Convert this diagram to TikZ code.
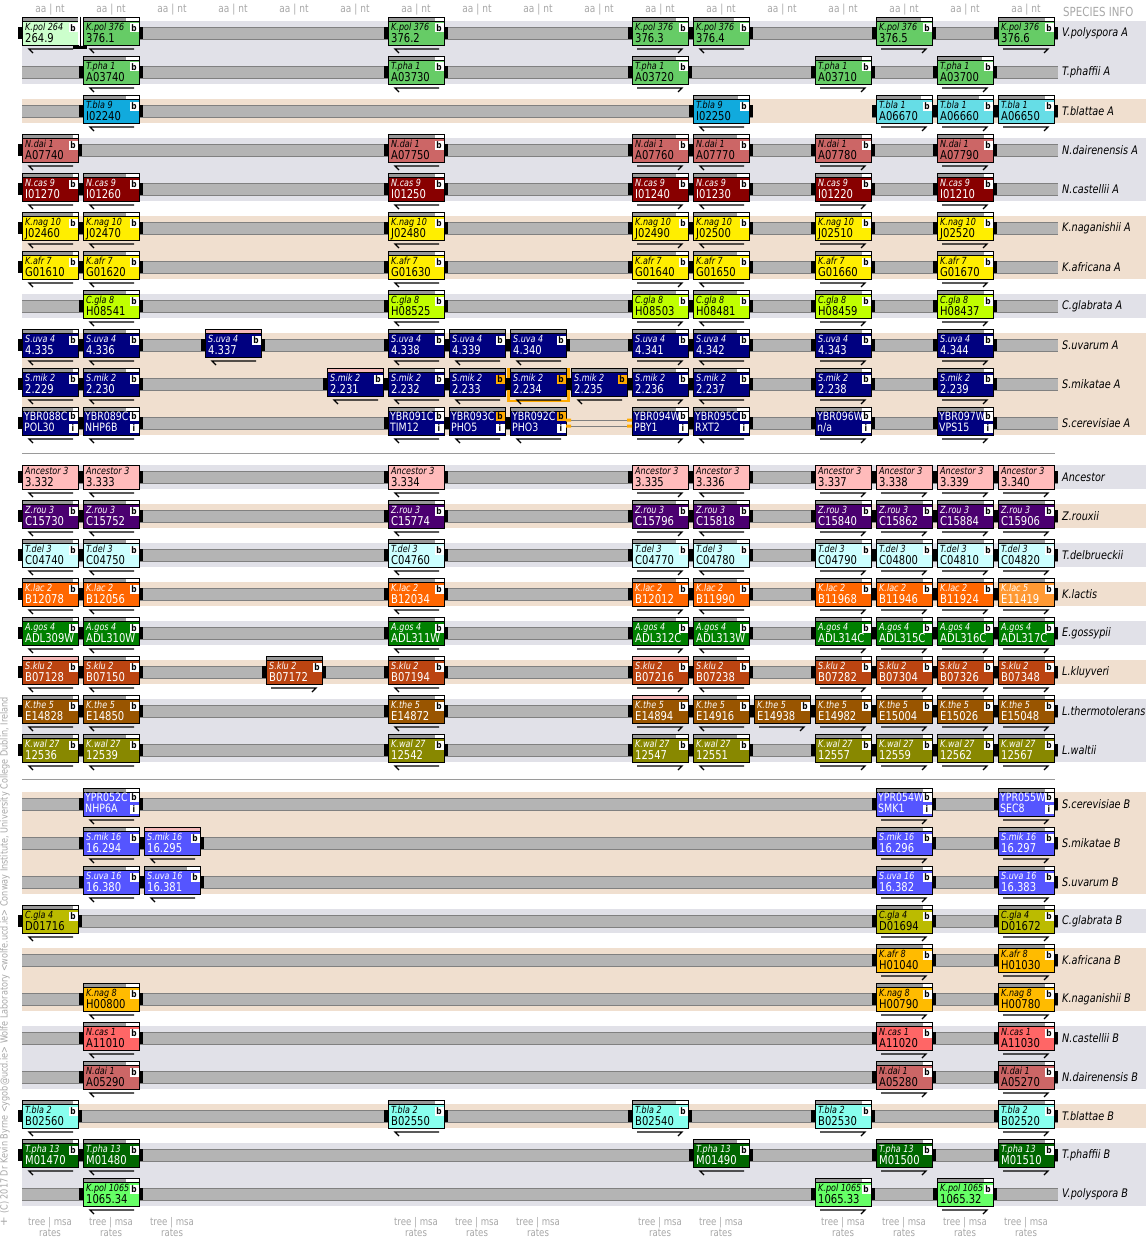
\documentclass[tikz,border=0pt]{standalone}
\usepackage{fontspec}
\setmainfont{DejaVu Sans}[FakeStretch=0.82]
\definecolor{lav}{HTML}{E1E1E8}
\definecolor{beige}{HTML}{F0DFCF}
\definecolor{trk}{HTML}{B4B4B4}
\definecolor{trkedge}{HTML}{808080}
\definecolor{bargrey}{HTML}{999999}
\definecolor{barpink}{HTML}{F4B8B8}
\definecolor{borange}{HTML}{FFAA00}
\definecolor{hdr}{HTML}{A8A8A8}
\definecolor{kpolL}{HTML}{CCFFCC}
\definecolor{kpol}{HTML}{66CC66}
\definecolor{tblaA}{HTML}{11AADD}
\definecolor{tblaB}{HTML}{66DDE6}
\definecolor{ndai}{HTML}{CC6666}
\definecolor{ncasA}{HTML}{880000}
\definecolor{yel}{HTML}{FFEE00}
\definecolor{lime}{HTML}{C0FF00}
\definecolor{navy}{HTML}{000080}
\definecolor{anc}{HTML}{FFBBBB}
\definecolor{zrou}{HTML}{4B0070}
\definecolor{tdel}{HTML}{CCFFFF}
\definecolor{klac}{HTML}{FF6600}
\definecolor{klacL}{HTML}{FF9933}
\definecolor{agos}{HTML}{008000}
\definecolor{sklu}{HTML}{BB4411}
\definecolor{kthe}{HTML}{995500}
\definecolor{kwal}{HTML}{888800}
\definecolor{blu}{HTML}{5555FF}
\definecolor{cglaB}{HTML}{BBBB00}
\definecolor{orng}{HTML}{FFBB00}
\definecolor{ncasB}{HTML}{FF6666}
\definecolor{tbla2}{HTML}{88FFEE}
\definecolor{tpha13}{HTML}{006600}
\definecolor{kpolB}{HTML}{66FF66}

\tikzset{
  genebox/.style={draw=black,line width=0.8pt,minimum width=56pt,minimum height=24pt,inner sep=0pt,outer sep=0pt},
  sptxt/.style={font=\fontsize{9.8}{10}\selectfont\itshape,inner sep=0pt},
  idtxt/.style={font=\fontsize{12.2}{12}\selectfont,inner sep=0pt},
  sctxt/.style={font=\fontsize{11.5}{12}\selectfont,inner sep=0pt},
  bsq/.style={minimum width=9pt,minimum height=9pt,inner sep=0pt,font=\fontsize{9}{9}\selectfont\bfseries},
  splabel/.style={font=\fontsize{11.8}{12}\selectfont\itshape,inner sep=0pt},
  hdrtxt/.style={font=\fontsize{11}{12}\selectfont,text=hdr,inner sep=0pt},
  garrow/.style={line width=1.2pt,black},
}

\def\tbx{x}\def\tbp{p}
\def\bfc{white}
\newcommand\gtopbar[1]{%
  \def\tbarg{#1}%
  \ifx\tbarg\tbx\else
  \ifx\tbarg\tbp
    \filldraw[fill=barpink,draw=black,line width=.6pt] (\gL,\gc-16) rectangle (\gR,\gc-12);
  \else
    \fill[bargrey] (\gL,\gc-16) rectangle (\gR-#1,\gc-12);
    \fill[white] (\gR-#1,\gc-16) rectangle (\gR,\gc-12);
    \draw[line width=.6pt] (\gL,\gc-16) rectangle (\gR,\gc-12);
  \fi\fi}

% #1 name, #2 column, #3 row y, #4 id, #5 dir l/r, #6 top bar (white width | p | x), #7 top text (mode 2)
\newcommand\gene[7]{%
  \pgfmathsetmacro\gL{22+61*(#2)}%
  \pgfmathsetmacro\gR{\gL+56}%
  \def\gc{#3}%
  \fill[black] (\gL-4,\gc-6) rectangle (\gL,\gc+6);
  \fill[black] (\gR,\gc-6) rectangle (\gR+4,\gc+6);
  \node[genebox,fill=\gfill] (#1) at (\gL+28,\gc) {};
  \gtopbar{#6}%
  \ifnum\gmode=2
    \node[sctxt,text=\gtext,anchor=base west] (#1-s) at (\gL+2,\gc-3) {#7};
    \node[sctxt,text=\gtext,anchor=base west] (#1-i) at (\gL+2,\gc+8.5) {#4};
    \node[bsq,fill=\bfc] (#1-b) at (\gL+51,\gc-7) {b};
    \node[bsq,fill=white] (#1-ii) at (\gL+51,\gc+5) {i};
  \else
    \node[sptxt,text=\gtext,anchor=base west] (#1-s) at (\gL+3,\gc-2.3) {\gsp};
    \node[idtxt,text=\gtext,anchor=base west] (#1-i) at (\gL+3,\gc+9.5) {#4};
    \ifnum\gmode=1
      \node[bsq,fill=\bfc] (#1-b) at (\gL+51,\gc-5) {b};
    \fi
  \fi
  \if#5l
    \draw[garrow] (\gL+11,\gc+20) -- (\gL+7,\gc+16) -- (\gL+51,\gc+16);
  \else
    \draw[garrow] (\gL+5,\gc+16) -- (\gL+50,\gc+16) -- (\gL+46,\gc+20);
  \fi
}

\newcommand\rowtrack[2]{%
  \fill[trk] (22,#1-6) rectangle (1058,#1+6);
  \draw[trkedge,line width=.8pt] (22,#1-6) -- (1058,#1-6) (22,#1+6) -- (1058,#1+6);
  \node[splabel,anchor=west] (lab#1) at (1062,#1) {#2};}

\begin{document}
\begin{tikzpicture}[x=1pt,y=-1pt]
\useasboundingbox (0,0) rectangle (1146,1239);
\fill[white] (0,0) rectangle (1146,1239);

% background bands
\fill[lav]   (22,21) rectangle (1146,84);
\fill[beige] (22,99) rectangle (1146,123);
\fill[lav]   (22,138) rectangle (1146,201);
\fill[beige] (22,216) rectangle (1146,279);
\fill[lav]   (22,294) rectangle (1146,318);
\fill[beige] (22,333) rectangle (1146,435);
\fill[lav]   (22,465) rectangle (1146,489);
\fill[beige] (22,504) rectangle (1146,528);
\fill[lav]   (22,543) rectangle (1146,567);
\fill[beige] (22,582) rectangle (1146,606);
\fill[lav]   (22,621) rectangle (1146,645);
\fill[beige] (22,660) rectangle (1146,684);
\fill[lav]   (22,699) rectangle (1146,762);
\fill[beige] (22,792) rectangle (1146,894);
\fill[lav]   (22,909) rectangle (1146,933);
\fill[beige] (22,948) rectangle (1146,1011);
\fill[lav]   (22,1026) rectangle (1146,1089);
\fill[beige] (22,1104) rectangle (1146,1128);
\fill[lav]   (22,1143) rectangle (1146,1206);

% separators
\draw[trkedge!80,line width=1pt] (22,453) -- (1055,453);
\draw[trkedge!80,line width=1pt] (22,779) -- (1055,779);

% header and footer
\foreach \c in {0,...,16} {\node[hdrtxt] (h\c) at (50+61*\c,10) {aa | nt};}
\node[hdrtxt,anchor=west,font=\fontsize{12.5}{13}\selectfont] (spinfo) at (1063,12) {SPECIES INFO};
\foreach \c in {0,1,2,6,7,8,10,11,13,14,15,16} {
  \node[hdrtxt,font=\fontsize{10.5}{11}\selectfont] (f\c) at (50+61*\c,1222.5) {tree | msa};
  \node[hdrtxt,font=\fontsize{10.5}{11}\selectfont] (g\c) at (50+61*\c,1233) {rates};}
\node[hdrtxt,font=\fontsize{12}{12}\selectfont] (plus) at (4,1222) {+};
\node[hdrtxt,font=\fontsize{9.9}{10}\selectfont,rotate=90,anchor=west] (copy) at (5,1214) {(C) 2017 Dr Kevin Byrne <ygob@ucd.ie> Wolfe Laboratory <wolfe.ucd.ie> Conway Institute, University College Dublin, Ireland};

% tracks and species labels
\rowtrack{33}{V.polyspora A}
\rowtrack{72}{T.phaffii A}
\rowtrack{111}{T.blattae A}
\fill[beige] (753,104) rectangle (872,118);
\rowtrack{150}{N.dairenensis A}
\rowtrack{189}{N.castellii A}
\rowtrack{228}{K.naganishii A}
\rowtrack{267}{K.africana A}
\rowtrack{306}{C.glabrata A}
\rowtrack{345}{S.uvarum A}
\rowtrack{384}{S.mikatae A}
\rowtrack{423}{S.cerevisiae A}
\rowtrack{477}{Ancestor}
\rowtrack{516}{Z.rouxii}
\rowtrack{555}{T.delbrueckii}
\rowtrack{594}{K.lactis}
\rowtrack{633}{E.gossypii}
\rowtrack{672}{L.kluyveri}
\rowtrack{711}{L.thermotolerans}
\rowtrack{750}{L.waltii}
\rowtrack{804}{S.cerevisiae B}
\rowtrack{843}{S.mikatae B}
\rowtrack{882}{S.uvarum B}
\rowtrack{921}{C.glabrata B}
\rowtrack{960}{K.africana B}
\rowtrack{999}{K.naganishii B}
\rowtrack{1038}{N.castellii B}
\rowtrack{1077}{N.dairenensis B}
\rowtrack{1116}{T.blattae B}
\rowtrack{1155}{T.phaffii B}
\rowtrack{1194}{V.polyspora B}

% ---------- row 0 V.polyspora A
\def\gmode{1}\def\gtext{black}
\def\gfill{kpolL}\def\gsp{K.pol 264}
\gene{r0c0}{0}{33}{264.9}{l}{0}{}
\def\gfill{kpol}\def\gsp{K.pol 376}
\gene{r0c1}{1}{33}{376.1}{l}{13}{}
\gene{r0c6}{6}{33}{376.2}{l}{9}{}
\gene{r0c10}{10}{33}{376.3}{r}{12}{}
\gene{r0c11}{11}{33}{376.4}{l}{15}{}
\gene{r0c14}{14}{33}{376.5}{r}{11}{}
\gene{r0c16}{16}{33}{376.6}{r}{9}{}
% contig break
\fill[white] (78.4,16.6) rectangle (82.6,45.4);
\draw[line width=.8pt] (80.5,16.6) -- (80.5,48);
\fill[black] (73,46.5) rectangle (87,49);

% row 1 T.phaffii A
\def\gsp{T.pha 1}
\gene{r1c1}{1}{72}{A03740}{l}{13}{}
\gene{r1c6}{6}{72}{A03730}{l}{9}{}
\gene{r1c10}{10}{72}{A03720}{r}{12}{}
\gene{r1c13}{13}{72}{A03710}{r}{9}{}
\gene{r1c15}{15}{72}{A03700}{r}{11}{}

% row 2 T.blattae A
\def\gfill{tblaA}\def\gsp{T.bla 9}
\gene{r2c1}{1}{111}{I02240}{l}{13}{}
\gene{r2c11}{11}{111}{I02250}{l}{11}{}
\def\gfill{tblaB}\def\gsp{T.bla 1}
\gene{r2c14}{14}{111}{A06670}{r}{11}{}
\gene{r2c15}{15}{111}{A06660}{r}{14}{}
\gene{r2c16}{16}{111}{A06650}{r}{9}{}

% row 3 N.dairenensis A
\def\gfill{ndai}\def\gsp{N.dai 1}
\gene{r3c0}{0}{150}{A07740}{l}{5}{}
\gene{r3c6}{6}{150}{A07750}{l}{9}{}
\gene{r3c10}{10}{150}{A07760}{r}{12}{}
\gene{r3c11}{11}{150}{A07770}{l}{12}{}
\gene{r3c13}{13}{150}{A07780}{r}{9}{}
\gene{r3c15}{15}{150}{A07790}{r}{9}{}

% row 4 N.castellii A
\def\gfill{ncasA}\def\gsp{N.cas 9}\def\gtext{white}
\gene{r4c0}{0}{189}{I01270}{l}{5}{}
\gene{r4c1}{1}{189}{I01260}{l}{13}{}
\gene{r4c6}{6}{189}{I01250}{l}{9}{}
\gene{r4c10}{10}{189}{I01240}{r}{12}{}
\gene{r4c11}{11}{189}{I01230}{l}{12}{}
\gene{r4c13}{13}{189}{I01220}{r}{9}{}
\gene{r4c15}{15}{189}{I01210}{r}{9}{}

% row 5 K.naganishii A
\def\gfill{yel}\def\gsp{K.nag 10}\def\gtext{black}
\gene{r5c0}{0}{228}{J02460}{l}{5}{}
\gene{r5c1}{1}{228}{J02470}{l}{13}{}
\gene{r5c6}{6}{228}{J02480}{l}{9}{}
\gene{r5c10}{10}{228}{J02490}{r}{12}{}
\gene{r5c11}{11}{228}{J02500}{l}{12}{}
\gene{r5c13}{13}{228}{J02510}{r}{9}{}
\gene{r5c15}{15}{228}{J02520}{r}{9}{}

% row 6 K.africana A
\def\gsp{K.afr 7}
\gene{r6c0}{0}{267}{G01610}{l}{5}{}
\gene{r6c1}{1}{267}{G01620}{l}{13}{}
\gene{r6c6}{6}{267}{G01630}{l}{9}{}
\gene{r6c10}{10}{267}{G01640}{r}{12}{}
\gene{r6c11}{11}{267}{G01650}{l}{12}{}
\gene{r6c13}{13}{267}{G01660}{r}{9}{}
\gene{r6c15}{15}{267}{G01670}{r}{9}{}

% row 7 C.glabrata A
\def\gfill{lime}\def\gsp{C.gla 8}
\gene{r7c1}{1}{306}{H08541}{l}{13}{}
\gene{r7c6}{6}{306}{H08525}{l}{9}{}
\gene{r7c10}{10}{306}{H08503}{r}{12}{}
\gene{r7c11}{11}{306}{H08481}{l}{12}{}
\gene{r7c13}{13}{306}{H08459}{r}{9}{}
\gene{r7c15}{15}{306}{H08437}{r}{9}{}

% row 8 S.uvarum A
\def\gfill{navy}\def\gsp{S.uva 4}\def\gtext{white}
\gene{r8c0}{0}{345}{4.335}{l}{5}{}
\gene{r8c1}{1}{345}{4.336}{l}{13}{}
\gene{r8c3}{3}{345}{4.337}{l}{p}{}
\gene{r8c6}{6}{345}{4.338}{l}{9}{}
\gene{r8c7}{7}{345}{4.339}{l}{0}{}
\gene{r8c8}{8}{345}{4.340}{l}{0}{}
\gene{r8c10}{10}{345}{4.341}{r}{12}{}
\gene{r8c11}{11}{345}{4.342}{l}{12}{}
\gene{r8c13}{13}{345}{4.343}{r}{9}{}
\gene{r8c15}{15}{345}{4.344}{r}{9}{}

% row 9 S.mikatae A
\def\gsp{S.mik 2}
\draw[borange,line width=2.7pt] (508.5,368) -- (508.5,401) -- (568.5,401) -- (568.5,368);
\gene{r9c0}{0}{384}{2.229}{l}{5}{}
\gene{r9c1}{1}{384}{2.230}{l}{13}{}
\gene{r9c5}{5}{384}{2.231}{l}{p}{}
\gene{r9c6}{6}{384}{2.232}{l}{9}{}
\def\bfc{borange}
\gene{r9c7}{7}{384}{2.233}{l}{0}{}
\gene{r9c8}{8}{384}{2.234}{l}{0}{}
\gene{r9c9}{9}{384}{2.235}{l}{0}{}
\def\bfc{white}
\gene{r9c10}{10}{384}{2.236}{r}{12}{}
\gene{r9c11}{11}{384}{2.237}{l}{12}{}
\gene{r9c13}{13}{384}{2.238}{r}{9}{}
\gene{r9c15}{15}{384}{2.239}{r}{9}{}

% row 10 S.cerevisiae A
\def\gmode{2}
\gene{r10c0}{0}{423}{POL30}{l}{5}{YBR088C}
\gene{r10c1}{1}{423}{NHP6B}{l}{13}{YBR089C-}
\gene{r10c6}{6}{423}{TIM12}{l}{9}{YBR091C}
\def\bfc{borange}
\gene{r10c7}{7}{423}{PHO5}{l}{0}{YBR093C}
\gene{r10c8}{8}{423}{PHO3}{l}{0}{YBR092C}
\def\bfc{white}
\gene{r10c10}{10}{423}{PBY1}{r}{12}{YBR094W}
\gene{r10c11}{11}{423}{RXT2}{l}{12}{YBR095C}
\gene{r10c13}{13}{423}{n/a}{r}{9}{YBR096W}
\gene{r10c15}{15}{423}{VPS15}{r}{9}{YBR097W}
% tandem gap
\fill[beige] (566.5,416.5) rectangle (631.5,429.5);
\draw[trkedge,line width=1pt] (566,420) -- (632,420) (566,426) -- (632,426);
\fill[borange] (566,418.5) rectangle (571,421.5) (566,424.5) rectangle (571,427.5)
               (627,418.5) rectangle (632,421.5) (627,424.5) rectangle (632,427.5);

% row 11 Ancestor
\def\gmode{0}\def\gfill{anc}\def\gsp{Ancestor 3}\def\gtext{black}
\gene{r11c0}{0}{477}{3.332}{l}{x}{}
\gene{r11c1}{1}{477}{3.333}{l}{x}{}
\gene{r11c6}{6}{477}{3.334}{l}{x}{}
\gene{r11c10}{10}{477}{3.335}{r}{x}{}
\gene{r11c11}{11}{477}{3.336}{l}{x}{}
\gene{r11c13}{13}{477}{3.337}{r}{x}{}
\gene{r11c14}{14}{477}{3.338}{r}{x}{}
\gene{r11c15}{15}{477}{3.339}{r}{x}{}
\gene{r11c16}{16}{477}{3.340}{r}{x}{}

% row 12 Z.rouxii
\def\gmode{1}\def\gfill{zrou}\def\gsp{Z.rou 3}\def\gtext{white}
\gene{r12c0}{0}{516}{C15730}{l}{5}{}
\gene{r12c1}{1}{516}{C15752}{l}{13}{}
\gene{r12c6}{6}{516}{C15774}{l}{9}{}
\gene{r12c10}{10}{516}{C15796}{r}{12}{}
\gene{r12c11}{11}{516}{C15818}{l}{12}{}
\gene{r12c13}{13}{516}{C15840}{r}{9}{}
\gene{r12c14}{14}{516}{C15862}{r}{9}{}
\gene{r12c15}{15}{516}{C15884}{r}{9}{}
\gene{r12c16}{16}{516}{C15906}{r}{9}{}

% row 13 T.delbrueckii
\def\gfill{tdel}\def\gsp{T.del 3}\def\gtext{black}
\gene{r13c0}{0}{555}{C04740}{l}{5}{}
\gene{r13c1}{1}{555}{C04750}{l}{13}{}
\gene{r13c6}{6}{555}{C04760}{l}{9}{}
\gene{r13c10}{10}{555}{C04770}{r}{12}{}
\gene{r13c11}{11}{555}{C04780}{l}{12}{}
\gene{r13c13}{13}{555}{C04790}{r}{9}{}
\gene{r13c14}{14}{555}{C04800}{r}{9}{}
\gene{r13c15}{15}{555}{C04810}{r}{9}{}
\gene{r13c16}{16}{555}{C04820}{r}{9}{}

% row 14 K.lactis
\def\gfill{klac}\def\gsp{K.lac 2}\def\gtext{white}
\gene{r14c0}{0}{594}{B12078}{l}{5}{}
\gene{r14c1}{1}{594}{B12056}{l}{13}{}
\gene{r14c6}{6}{594}{B12034}{l}{9}{}
\gene{r14c10}{10}{594}{B12012}{r}{12}{}
\gene{r14c11}{11}{594}{B11990}{l}{12}{}
\gene{r14c13}{13}{594}{B11968}{r}{9}{}
\gene{r14c14}{14}{594}{B11946}{r}{9}{}
\gene{r14c15}{15}{594}{B11924}{r}{9}{}
\def\gfill{klacL}\def\gsp{K.lac 5}
\gene{r14c16}{16}{594}{E11419}{r}{9}{}

% row 15 E.gossypii
\def\gfill{agos}\def\gsp{A.gos 4}
\gene{r15c0}{0}{633}{ADL309W}{l}{5}{}
\gene{r15c1}{1}{633}{ADL310W}{l}{13}{}
\gene{r15c6}{6}{633}{ADL311W}{l}{9}{}
\gene{r15c10}{10}{633}{ADL312C}{r}{12}{}
\gene{r15c11}{11}{633}{ADL313W}{l}{12}{}
\gene{r15c13}{13}{633}{ADL314C}{r}{9}{}
\gene{r15c14}{14}{633}{ADL315C}{r}{9}{}
\gene{r15c15}{15}{633}{ADL316C}{r}{9}{}
\gene{r15c16}{16}{633}{ADL317C}{r}{9}{}

% row 16 L.kluyveri
\def\gfill{sklu}\def\gsp{S.klu 2}
\gene{r16c0}{0}{672}{B07128}{l}{p}{}
\gene{r16c1}{1}{672}{B07150}{l}{13}{}
\gene{r16c4}{4}{672}{B07172}{r}{0}{}
\gene{r16c6}{6}{672}{B07194}{l}{9}{}
\gene{r16c10}{10}{672}{B07216}{r}{p}{}
\gene{r16c11}{11}{672}{B07238}{l}{12}{}
\gene{r16c13}{13}{672}{B07282}{r}{9}{}
\gene{r16c14}{14}{672}{B07304}{r}{9}{}
\gene{r16c15}{15}{672}{B07326}{r}{9}{}
\gene{r16c16}{16}{672}{B07348}{r}{9}{}

% row 17 L.thermotolerans
\def\gfill{kthe}\def\gsp{K.the 5}
\gene{r17c0}{0}{711}{E14828}{l}{5}{}
\gene{r17c1}{1}{711}{E14850}{l}{13}{}
\gene{r17c6}{6}{711}{E14872}{l}{9}{}
\gene{r17c10}{10}{711}{E14894}{r}{p}{}
\gene{r17c11}{11}{711}{E14916}{l}{12}{}
\gene{r17c12}{12}{711}{E14938}{r}{0}{}
\gene{r17c13}{13}{711}{E14982}{r}{9}{}
\gene{r17c14}{14}{711}{E15004}{r}{9}{}
\gene{r17c15}{15}{711}{E15026}{r}{9}{}
\gene{r17c16}{16}{711}{E15048}{r}{9}{}

% row 18 L.waltii
\def\gfill{kwal}\def\gsp{K.wal 27}
\gene{r18c0}{0}{750}{12536}{l}{5}{}
\gene{r18c1}{1}{750}{12539}{l}{13}{}
\gene{r18c6}{6}{750}{12542}{l}{9}{}
\gene{r18c10}{10}{750}{12547}{r}{12}{}
\gene{r18c11}{11}{750}{12551}{l}{12}{}
\gene{r18c13}{13}{750}{12557}{r}{9}{}
\gene{r18c14}{14}{750}{12559}{r}{9}{}
\gene{r18c15}{15}{750}{12562}{r}{9}{}
\gene{r18c16}{16}{750}{12567}{r}{9}{}

% row 19 S.cerevisiae B
\def\gmode{2}\def\gfill{blu}
\gene{r19c1}{1}{804}{NHP6A}{l}{13}{YPR052C}
\gene{r19c14}{14}{804}{SMK1}{r}{9}{YPR054W}
\gene{r19c16}{16}{804}{SEC8}{r}{9}{YPR055W}

% row 20 S.mikatae B
\def\gmode{1}\def\gsp{S.mik 16}
\gene{r20c1}{1}{843}{16.294}{l}{13}{}
\gene{r20c2}{2}{843}{16.295}{l}{p}{}
\gene{r20c14}{14}{843}{16.296}{r}{9}{}
\gene{r20c16}{16}{843}{16.297}{r}{9}{}

% row 21 S.uvarum B
\def\gsp{S.uva 16}
\gene{r21c1}{1}{882}{16.380}{l}{13}{}
\gene{r21c2}{2}{882}{16.381}{l}{13}{}
\gene{r21c14}{14}{882}{16.382}{r}{9}{}
\gene{r21c16}{16}{882}{16.383}{r}{9}{}

% row 22 C.glabrata B
\def\gfill{cglaB}\def\gsp{C.gla 4}\def\gtext{black}
\gene{r22c0}{0}{921}{D01716}{l}{5}{}
\gene{r22c14}{14}{921}{D01694}{r}{9}{}
\gene{r22c16}{16}{921}{D01672}{r}{9}{}

% row 23 K.africana B
\def\gfill{orng}\def\gsp{K.afr 8}
\gene{r23c14}{14}{960}{H01040}{r}{9}{}
\gene{r23c16}{16}{960}{H01030}{r}{9}{}

% row 24 K.naganishii B
\def\gsp{K.nag 8}
\gene{r24c1}{1}{999}{H00800}{l}{13}{}
\gene{r24c14}{14}{999}{H00790}{r}{9}{}
\gene{r24c16}{16}{999}{H00780}{r}{9}{}

% row 25 N.castellii B
\def\gfill{ncasB}\def\gsp{N.cas 1}
\gene{r25c1}{1}{1038}{A11010}{l}{13}{}
\gene{r25c14}{14}{1038}{A11020}{r}{9}{}
\gene{r25c16}{16}{1038}{A11030}{r}{9}{}

% row 26 N.dairenensis B
\def\gfill{ndai}\def\gsp{N.dai 1}
\gene{r26c1}{1}{1077}{A05290}{l}{13}{}
\gene{r26c14}{14}{1077}{A05280}{r}{9}{}
\gene{r26c16}{16}{1077}{A05270}{r}{9}{}

% row 27 T.blattae B
\def\gfill{tbla2}\def\gsp{T.bla 2}
\gene{r27c0}{0}{1116}{B02560}{l}{5}{}
\gene{r27c6}{6}{1116}{B02550}{l}{9}{}
\gene{r27c10}{10}{1116}{B02540}{r}{12}{}
\gene{r27c13}{13}{1116}{B02530}{r}{9}{}
\gene{r27c16}{16}{1116}{B02520}{r}{9}{}

% row 28 T.phaffii B
\def\gfill{tpha13}\def\gsp{T.pha 13}\def\gtext{white}
\gene{r28c0}{0}{1155}{M01470}{l}{5}{}
\gene{r28c1}{1}{1155}{M01480}{l}{13}{}
\gene{r28c11}{11}{1155}{M01490}{l}{12}{}
\gene{r28c14}{14}{1155}{M01500}{r}{9}{}
\gene{r28c16}{16}{1155}{M01510}{r}{9}{}

% row 29 V.polyspora B
\def\gfill{kpolB}\def\gsp{K.pol 1065}\def\gtext{black}
\gene{r29c1}{1}{1194}{1065.34}{l}{13}{}
\gene{r29c13}{13}{1194}{1065.33}{r}{9}{}
\gene{r29c15}{15}{1194}{1065.32}{r}{9}{}
\end{tikzpicture}
\end{document}
